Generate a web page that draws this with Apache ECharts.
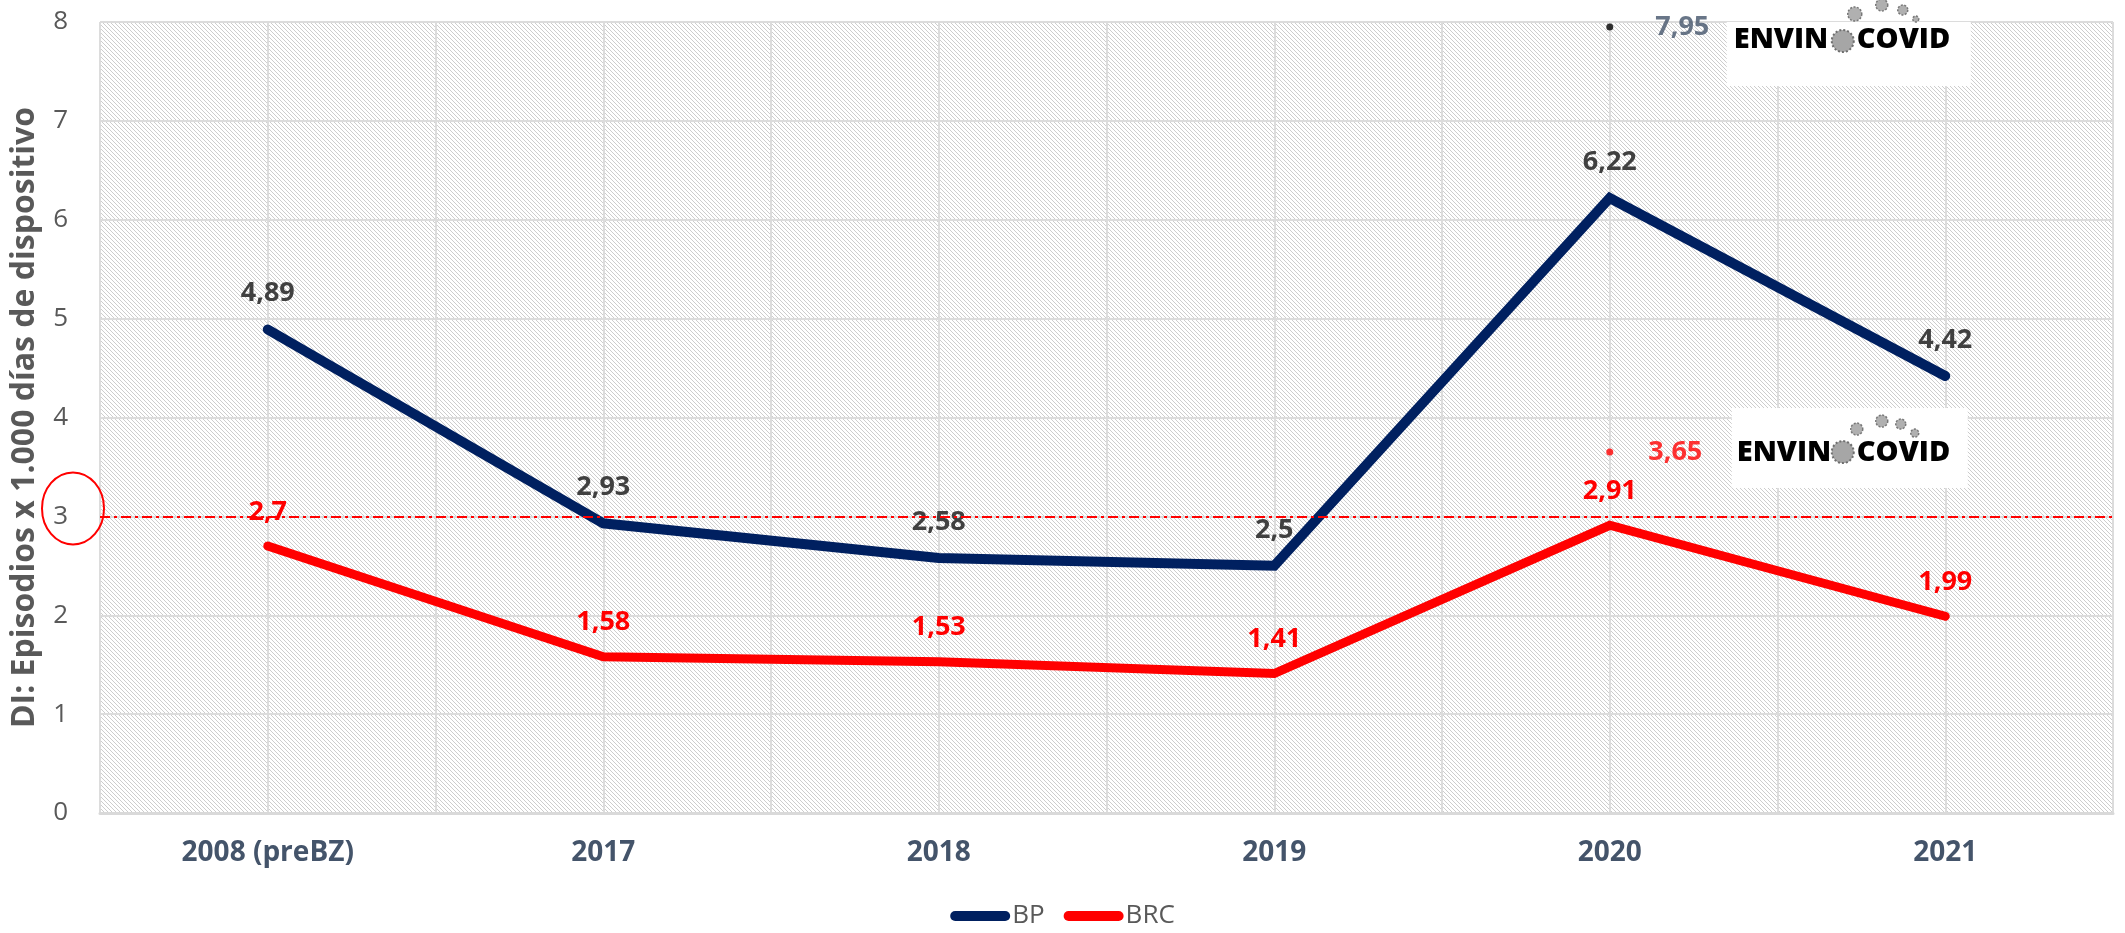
<!DOCTYPE html>
<html>
<head>
<meta charset="utf-8">
<script src="https://cdn.jsdelivr.net/npm/echarts@6/dist/echarts.min.js"></script>
<style>
html,body{margin:0;padding:0;background:#fff;}
#chart{width:2125px;height:933px;}
</style>
</head>
<body>
<div id="chart"></div>
<script>
// ---- data ----
const categories = ['2008 (preBZ)', '2017', '2018', '2019', '2020', '2021'];
const bpValues = [4.89, 2.93, 2.58, 2.5, 6.22, 4.42];
const brcValues = [2.7, 1.58, 1.53, 1.41, 2.91, 1.99];
const covidCategory = '2020';
const bpCovidValue = 7.95;
const brcCovidValue = 3.65;
const referenceLevel = 3;
const yMin = 0, yMax = 8, yInterval = 1;
const seriesNames = ['BP', 'BRC'];
const yAxisTitle = 'DI: Episodios x 1.000 días de dispositivo';
const logoWords = ['ENVIN', 'COVID'];

// ---- layout ----
const FONT = '"Open Sans", "Noto Sans", sans-serif';
const gridLeft = 100, gridRight = 12, gridTop = 22, gridBottom = 120;
const fmt = v => String(v).replace('.', ',');

const pc = document.createElement('canvas');
pc.width = 8; pc.height = 8;
const pctx = pc.getContext('2d');
pctx.fillStyle = '#ffffff'; pctx.fillRect(0, 0, 8, 8);
pctx.fillStyle = '#cdcdcd';
for (let x = 0; x < 8; x++) for (let y = 0; y < 8; y++) if (((x - y) % 4 + 4) % 4 === 0) pctx.fillRect(x, y, 1, 1);

const chart = echarts.init(document.getElementById('chart'), null, {renderer: 'canvas'});

const labelBase = {show: true, position: 'top', fontFamily: FONT, fontWeight: 'bold', fontSize: 27,
                   formatter: p => fmt(Array.isArray(p.value) ? p.value[1] : p.value)};

const option = {
  animation: false,
  backgroundColor: '#ffffff',
  grid: {left: gridLeft, right: gridRight, top: gridTop, bottom: gridBottom, show: true,
         backgroundColor: {image: pc, repeat: 'repeat'}, borderWidth: 0},
  legend: {
    data: seriesNames, left: 'center', top: 898, itemWidth: 60, itemHeight: 10, itemGap: 19,
    icon: 'path://M5,0 L55,0 A5,5 0 0 1 55,10 L5,10 A5,5 0 0 1 5,0 Z',
    textStyle: {color: '#595959', fontSize: 26, fontFamily: FONT, padding: [0, 0, 0, -3]}
  },
  xAxis: [
    {type: 'category', data: categories, boundaryGap: true,
     axisLine: {lineStyle: {color: '#d9d9d9', width: 3}}, axisTick: {show: false}, splitLine: {show: false},
     axisLabel: {color: '#44546a', fontWeight: 'bold', fontSize: 28, fontFamily: FONT, margin: 26}},
    {type: 'value', min: 0, max: categories.length * 2, interval: 1, position: 'bottom',
     axisLine: {show: false}, axisTick: {show: false}, axisLabel: {show: false},
     splitLine: {show: true, lineStyle: {color: '#dcdcdc', width: 2}}}
  ],
  yAxis: {
    type: 'value', min: yMin, max: yMax, interval: yInterval,
    axisLine: {show: false}, axisTick: {show: false},
    axisLabel: {color: '#595959', fontSize: 26, fontFamily: FONT, margin: 32},
    splitLine: {show: true, lineStyle: {color: '#dcdcdc', width: 2}},
    name: yAxisTitle, nameLocation: 'middle', nameGap: 59, nameRotate: 90,
    nameTextStyle: {color: '#595959', fontWeight: 'bold', fontSize: 32, fontFamily: FONT}
  },
  series: [
    {name: seriesNames[0], type: 'line', data: bpValues, symbol: 'circle', symbolSize: 1, showSymbol: true,
     color: '#002060', itemStyle: {color: '#002060'}, z: 3,
     lineStyle: {color: '#002060', width: 10, cap: 'round', join: 'miter'},
     label: Object.assign({}, labelBase, {color: '#404040', distance: 22})},
    {name: seriesNames[1], type: 'line', data: brcValues, symbol: 'circle', symbolSize: 1, showSymbol: true,
     color: '#ff0000', itemStyle: {color: '#ff0000'}, z: 3,
     lineStyle: {color: '#ff0000', width: 9, cap: 'round', join: 'miter'},
     label: Object.assign({}, labelBase, {color: '#ff0000', distance: 20})},
    {name: 'BP COVID', type: 'scatter', data: [[covidCategory, bpCovidValue]], symbol: 'circle', symbolSize: 7,
     itemStyle: {color: '#000000'}, z: 4,
     label: Object.assign({}, labelBase, {position: 'right', distance: 42, color: '#44546a'})},
    {name: 'BRC COVID', type: 'scatter', data: [[covidCategory, brcCovidValue]], symbol: 'circle', symbolSize: 7,
     itemStyle: {color: '#ff0000'}, z: 5,
     label: Object.assign({}, labelBase, {position: 'right', distance: 35, color: '#ff0000'}),
     markLine: {silent: true, symbol: 'none', label: {show: false},
       lineStyle: {color: '#ff0000', width: 2, type: [10, 4, 3, 4]},
       data: [{yAxis: referenceLevel}]}}
  ]
};
chart.setOption(option);

function logo(px, py, opts) {
  const els = [];
  els.push({type: 'rect', shape: {x: px + opts.box[0], y: py + opts.box[1], width: opts.box[2], height: opts.box[3]}, style: {fill: '#ffffff'}, z: 20});
  els.push({type: 'text', x: px + opts.text1, y: py + opts.ty, style: {text: logoWords[0], fill: '#000000', font: '800 ' + opts.fs + 'px ' + FONT, textVerticalAlign: 'middle'}, z: 21});
  els.push({type: 'text', x: px + opts.text2, y: py + opts.ty, style: {text: logoWords[1], fill: '#000000', font: '800 ' + opts.fs + 'px ' + FONT, textVerticalAlign: 'middle'}, z: 21});
  els.push({type: 'circle', shape: {cx: px + opts.virus[0], cy: py + opts.virus[1], r: opts.virus[2]}, style: {fill: '#a6a6a6', stroke: '#6e6e6e', lineWidth: 2, lineDash: [2, 2]}, z: 21});
  opts.dots.forEach(d => els.push({type: 'circle', shape: {cx: px + d[0], cy: py + d[1], r: d[2]}, style: {fill: '#b0b0b0', stroke: '#777777', lineWidth: 1.5, lineDash: [2, 1.5]}, z: 21}));
  return els;
}

const p1 = chart.convertToPixel({seriesIndex: 2}, [4, bpCovidValue]);
const p2 = chart.convertToPixel({seriesIndex: 3}, [4, brcCovidValue]);
const y3 = chart.convertToPixel({seriesIndex: 0}, [0, referenceLevel])[1];

const g = [];
g.push(...logo(p1[0], gridTop, {box: [117, 0, 244, 64], text1: 124, text2: 247, ty: 18, fs: 29,
  virus: [233, 19, 11], dots: [[245, -8, 7], [272, -17, 6], [293, -12, 5], [306, -3, 3]]}));
g.push(...logo(p2[0], p2[1], {box: [122, -44, 236, 80], text1: 127, text2: 247, ty: 1, fs: 29,
  virus: [233, 0, 11], dots: [[247, -23, 6], [272, -31, 6], [291, -28, 5], [305, -19, 4]]}));
g.push({type: 'ellipse', shape: {cx: gridLeft - 27, cy: y3 - 8, rx: 31, ry: 36}, style: {fill: 'none', stroke: '#ff0000', lineWidth: 2}, z: 20});
chart.setOption({graphic: {elements: g}});
</script>
</body>
</html>
